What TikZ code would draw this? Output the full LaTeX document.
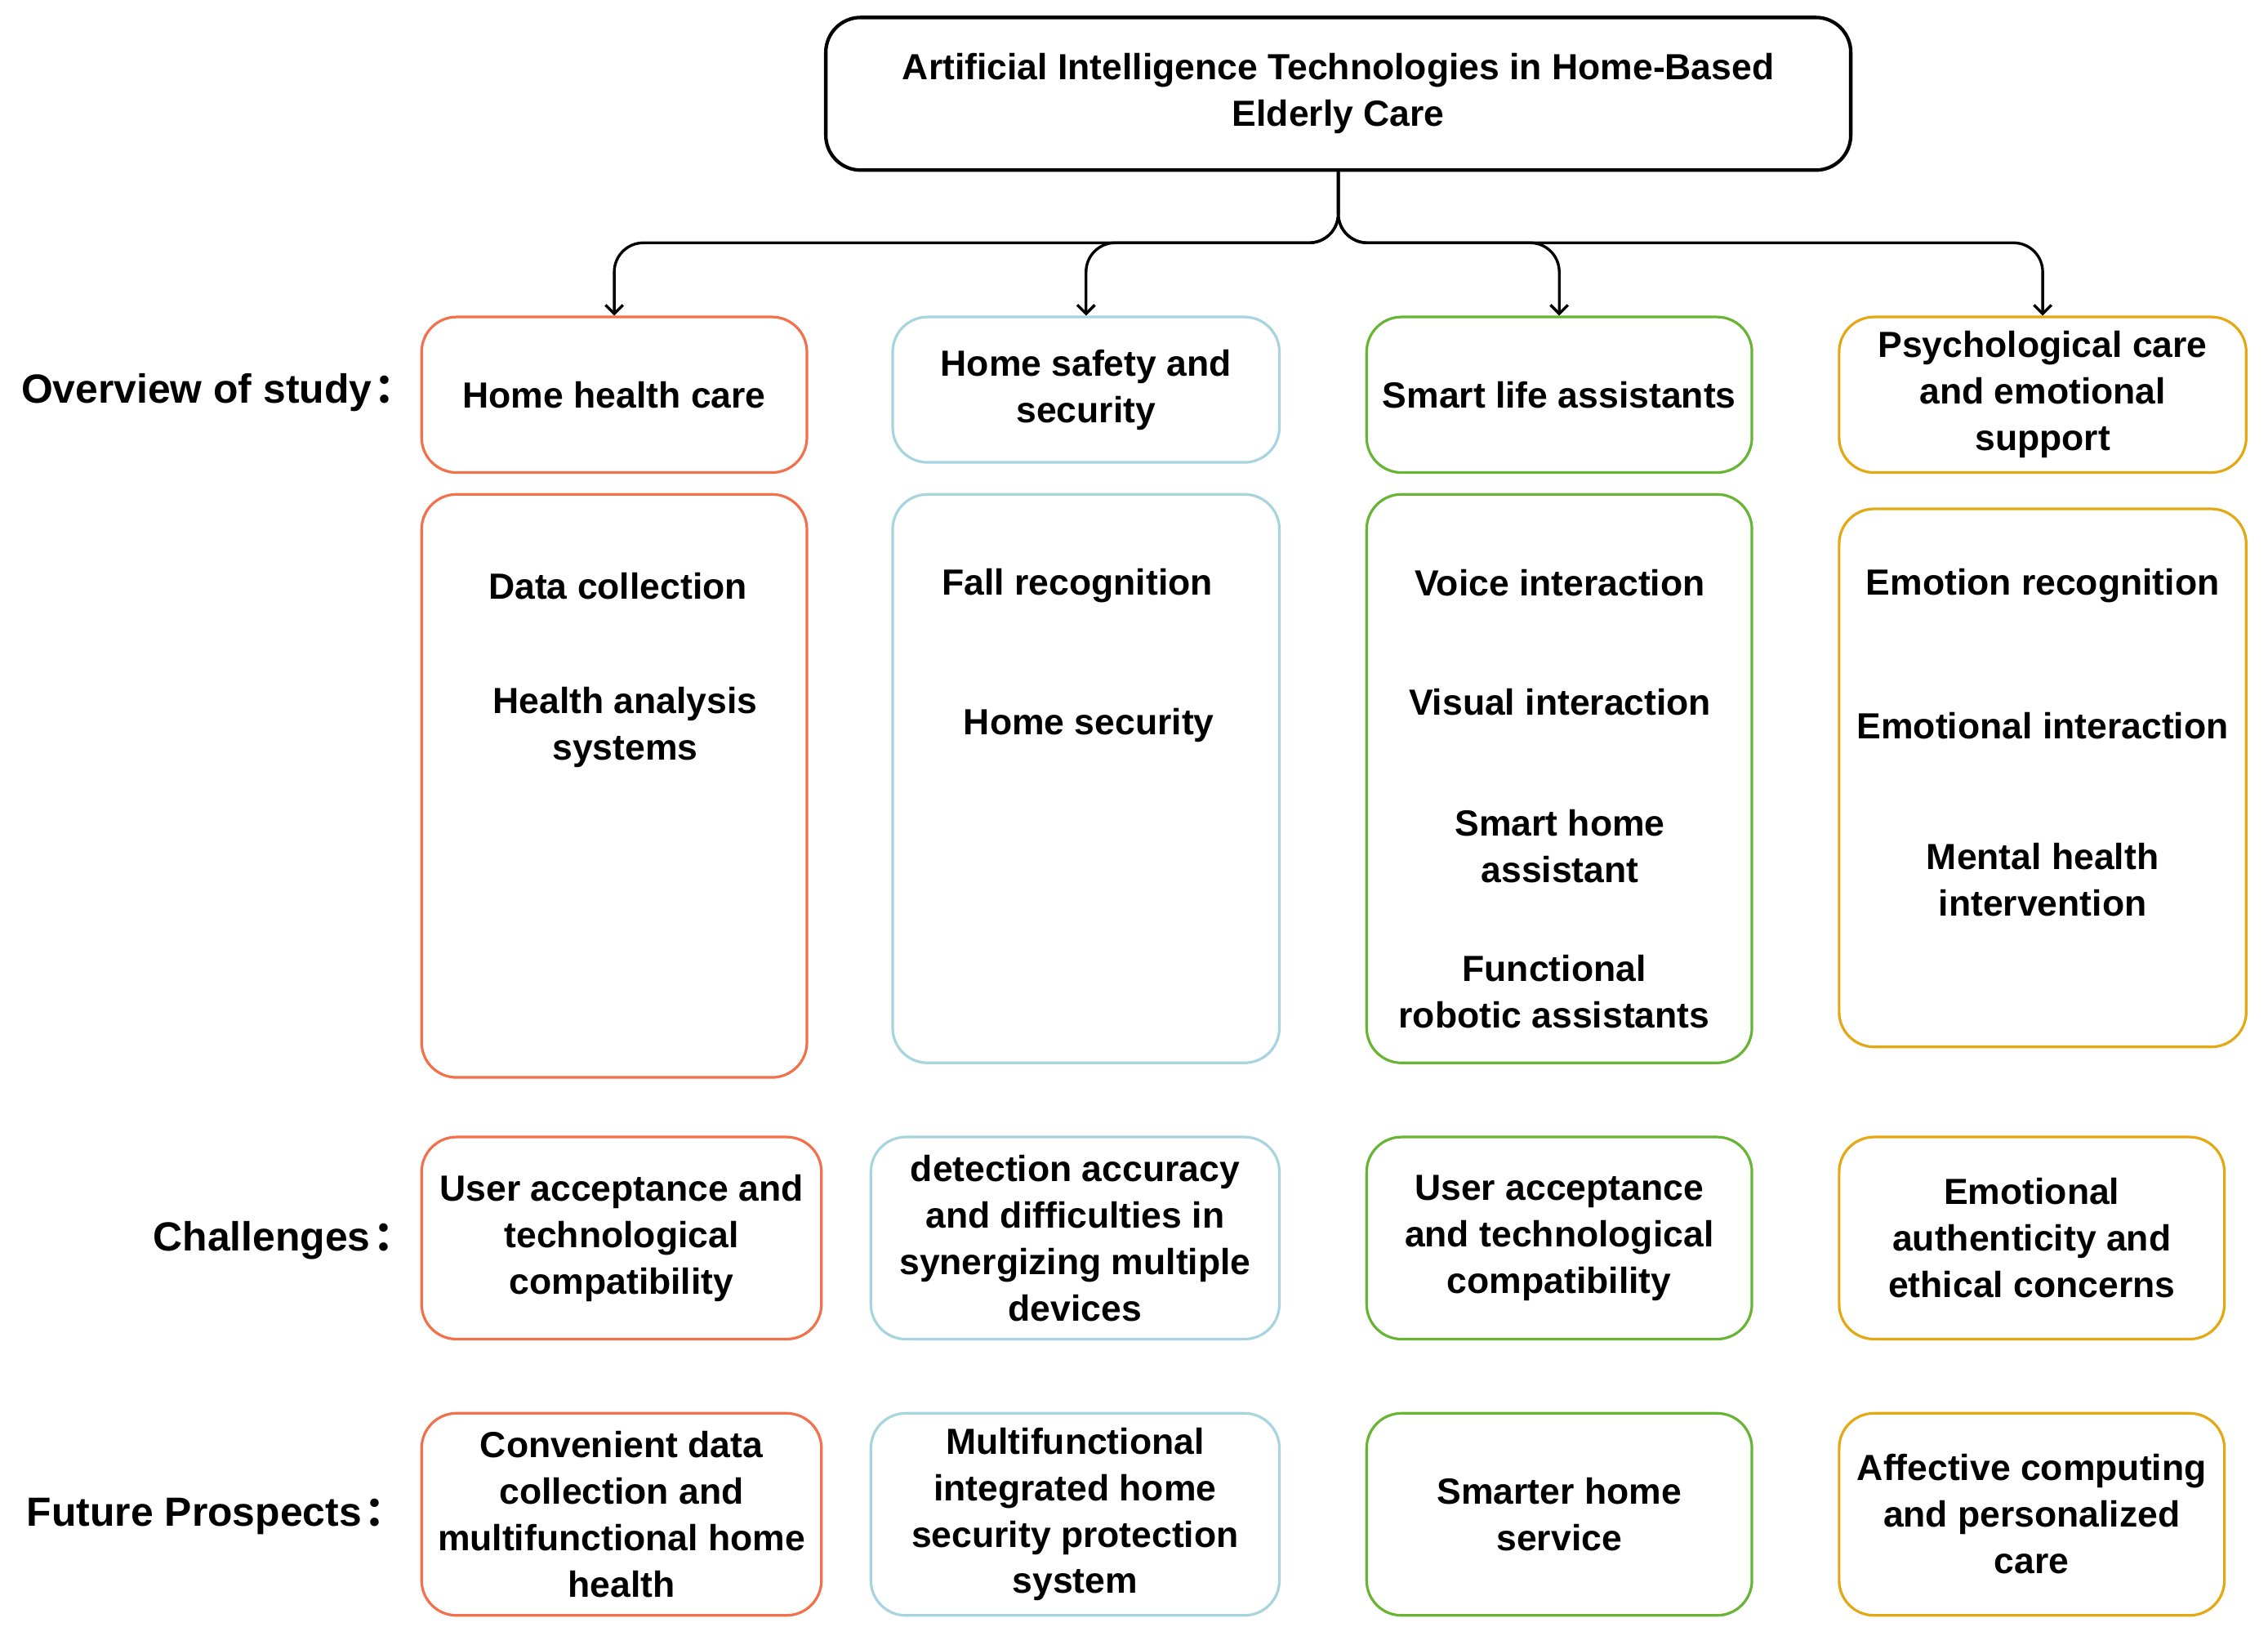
\documentclass[tikz,border=0pt]{standalone}
\usepackage{fontspec}
\setmainfont{Liberation Sans}
\newfontfamily\cjk{Noto Sans CJK SC}
\usetikzlibrary{arrows.meta}
\definecolor{cOr}{RGB}{242,112,74}
\definecolor{cBl}{RGB}{168,212,224}
\definecolor{cGr}{RGB}{104,180,52}
\definecolor{cYe}{RGB}{228,168,20}
\newcommand{\txtfont}{\fontsize{25}{32}\selectfont\bfseries}
\newcommand{\lblfont}{\fontsize{28}{34}\selectfont\bfseries}
\begin{document}
\begin{tikzpicture}[x=1pt,y=-1pt,
  box/.style={draw, rounded corners=24pt, line width=1.8pt, inner sep=0pt, align=center, font=\txtfont},
  txt/.style={align=center, font=\txtfont, inner sep=0pt},
  lbl/.style={anchor=east, font=\lblfont, inner sep=0pt},
  conn/.style={draw=black, line width=1.9pt, rounded corners=20pt, -{Straight Barb[length=6pt,width=12pt,line width=1.9pt]}}]
\useasboundingbox (0,0) rectangle (1560,1125);

% top
\node[box, line width=2.4pt, minimum width=705pt, minimum height=105pt] (top) at (920.5,64.5) {Artificial Intelligence Technologies in Home-Based\\Elderly Care};

% headers
\node[box, draw=cOr, minimum width=265pt, minimum height=107pt] (h1) at (422.5,271.5) {Home health care};
\node[box, draw=cBl, minimum width=266pt, minimum height=100pt] (h2) at (747,268) {Home safety and\\security};
\node[box, draw=cGr, minimum width=265pt, minimum height=107pt] (h3) at (1072.5,271.5) {Smart life assistants};
\node[box, draw=cYe, minimum width=280pt, minimum height=107pt] (h4) at (1405,271.5) {Psychological care\\and emotional\\support};

% bodies
\node[box, draw=cOr, minimum width=265pt, minimum height=401pt] (b1) at (422.5,540.5) {};
\node[box, draw=cBl, minimum width=266pt, minimum height=391pt] (b2) at (747,535.5) {};
\node[box, draw=cGr, minimum width=265pt, minimum height=391pt] (b3) at (1072.5,535.5) {};
\node[box, draw=cYe, minimum width=280pt, minimum height=370pt] (b4) at (1405,535) {};

\node[txt] (t11) at (425,403) {Data collection};
\node[txt] (t12) at (430,500) {Health analysis\\systems};
\node[txt] (t21) at (741,403) {Fall recognition};
\node[txt] (t22) at (749,499) {Home security};
\node[txt] (t31) at (1073,401) {Voice interaction};
\node[txt] (t32) at (1073,483) {Visual interaction};
\node[txt] (t33) at (1073,582) {Smart home\\assistant};
\node[txt] (t34) at (1069,682) {Functional\\robotic assistants};
\node[txt] (t41) at (1405,403) {Emotion recognition};
\node[txt] (t42) at (1405,499) {Emotional interaction};
\node[txt] (t43) at (1405,605) {Mental health\\intervention};

% challenges
\node[box, draw=cOr, minimum width=275pt, minimum height=139pt] (c1) at (427.5,851.5) {User acceptance and\\technological\\compatibility};
\node[box, draw=cBl, minimum width=281pt, minimum height=139pt] (c2) at (739.5,851.5) {detection accuracy\\and difficulties in\\synergizing multiple\\devices};
\node[box, draw=cGr, minimum width=265pt, minimum height=139pt] (c3) at (1072.5,851.5) {User acceptance\\and technological\\compatibility};
\node[box, draw=cYe, minimum width=265pt, minimum height=139pt] (c4) at (1397.5,851.5) {Emotional\\authenticity and\\ethical concerns};

% future
\node[box, draw=cOr, minimum width=275pt, minimum height=139pt] (f1) at (427.5,1041.5) {Convenient data\\collection and\\multifunctional home\\health};
\node[box, draw=cBl, minimum width=281pt, minimum height=139pt] (f2) at (739.5,1041.5) {Multifunctional\\integrated home\\security protection\\system};
\node[box, draw=cGr, minimum width=265pt, minimum height=139pt] (f3) at (1072.5,1041.5) {Smarter home\\service};
\node[box, draw=cYe, minimum width=265pt, minimum height=139pt] (f4) at (1397.5,1041.5) {Affective computing\\and personalized\\care};

% row labels
\node[lbl] (l1) at (286,270) {Overview of study\hspace{2pt}{\cjk ：}};
\node[lbl] (l2) at (285,853) {Challenges\hspace{2pt}{\cjk ：}};
\node[lbl] (l3) at (279,1043) {Future Prospects\hspace{2pt}{\cjk ：}};

% connectors
\coordinate (split) at (920.5,167);
\draw[conn] (top.south) -- (split) -| (h1.north);
\draw[conn] (top.south) -- (split) -| (h2.north);
\draw[conn] (top.south) -- (split) -| (h3.north);
\draw[conn] (top.south) -- (split) -| (h4.north);
\end{tikzpicture}
\end{document}
